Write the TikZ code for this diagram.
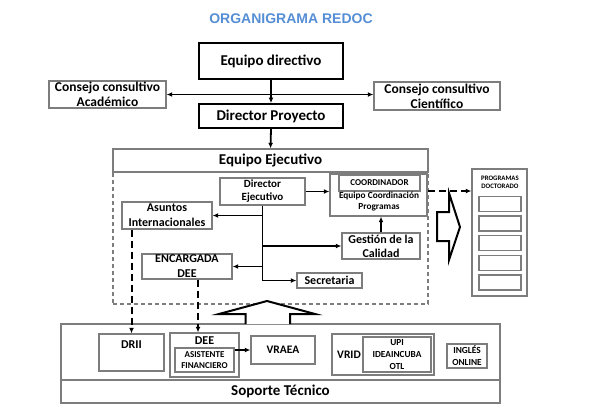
\documentclass[tikz,border=0pt]{standalone}
\usepackage{fontspec}
\setmainfont{Carlito}
\newfontfamily\titlefont{Liberation Sans}
\usepackage{tikz}
\usetikzlibrary{arrows.meta, positioning, calc}
\definecolor{redocblue}{RGB}{85, 142, 213}
\definecolor{redocgray}{RGB}{125, 125, 125}
\newcommand{\redocsize}[2]{\fontsize{#1}{#2}\selectfont}
\tikzset{
    box/.style={
        rectangle, draw=black, line width=1.9pt, fill=white,
        inner sep=0pt, align=center, font=\bfseries
    },
    graybox/.style={box, draw=redocgray, line width=1.4pt},
    dashbox/.style={rectangle, draw=redocgray, line width=1.4pt, dash pattern=on 4pt off 3pt, inner sep=0pt},
    txt/.style={inner sep=0pt, align=center},
    arrow/.style={-{Latex[length=5.5pt, width=5pt]}, line width=1.8pt},
    dasharrow/.style={arrow, line width=2pt, dash pattern=on 7pt off 4pt},
    bigarrow/.style={draw=black, line width=2pt, fill=white, line join=miter},
}

\begin{document}
\begin{tikzpicture}[x=1pt, y=-1pt]
    \useasboundingbox (0,0) rectangle (591,410);

    \node[txt, text=redocblue, font=\titlefont\bfseries\redocsize{14}{14}] (title) at (291, 18.5) {ORGANIGRAMA REDOC};

    % direccion
    \node[box, minimum width=144pt, minimum height=36pt, font=\bfseries\redocsize{15}{15}] (eqdir) at (271, 61) {Equipo directivo};
    \node[box, minimum width=144pt, minimum height=24pt, font=\bfseries\redocsize{15}{15}] (dirpro) at (271, 116) {Director Proyecto};
    \node[graybox, minimum width=117pt, minimum height=27pt, font=\bfseries\redocsize{13.5}{15}] (acad) at (107.5, 94.5) {Consejo consultivo\\Académico};
    \node[graybox, minimum width=126pt, minimum height=28pt, font=\bfseries\redocsize{13.5}{15}] (cient) at (437, 96) {Consejo consultivo\\Científico};

    % equipo ejecutivo
    \node[dashbox, minimum width=315pt, minimum height=132pt] (ejarea) at (270.5, 238) {};
    \node[graybox, minimum width=315pt, minimum height=23pt, font=\bfseries\redocsize{15}{15}] (eqej) at (270.5, 160.5) {Equipo Ejecutivo};
    \node[graybox, minimum width=85pt, minimum height=27pt, font=\bfseries\redocsize{11}{13}] (dirEj) at (262.5, 191.5) {Director\\Ejecutivo};
    \node[graybox, minimum width=97pt, minimum height=42pt] (coord) at (378.5, 195) {};
    \node[graybox, minimum width=81pt, minimum height=16pt, font=\bfseries\redocsize{9}{9}] (coordtit) at (379.5, 183) {COORDINADOR};
    \node[txt, font=\bfseries\redocsize{9.3}{11}] (coordtxt) at (379, 201.5) {Equipo Coordinación\\Programas};
    \node[graybox, minimum width=90pt, minimum height=27pt, font=\bfseries\redocsize{12}{15}] (asuntos) at (167, 215.5) {Asuntos\\Internacionales};
    \node[graybox, minimum width=78pt, minimum height=26pt, font=\bfseries\redocsize{12}{14}] (gestion) at (381, 246) {Gestión de la\\Calidad};
    \node[graybox, minimum width=90pt, minimum height=25pt, font=\bfseries\redocsize{12}{15}] (encargada) at (187, 266.5) {ENCARGADA\\DEE};
    \node[graybox, minimum width=65pt, minimum height=15pt, font=\bfseries\redocsize{12}{12}] (secre) at (329.5, 280.5) {Secretaria};

    % programas de doctorado
    \node[graybox, minimum width=55pt, minimum height=127pt] (prog) at (499.5, 232.5) {};
    \node[txt, font=\bfseries\redocsize{6.8}{8}] (progtxt) at (500, 182) {PROGRAMAS\\DOCTORADO};
    \foreach \i in {0,...,4}
        \node[graybox, minimum width=42pt, minimum height=15pt] (slot\i) at (500, 204+19.6*\i) {};

    % soporte tecnico
    \node[graybox, minimum width=439pt, minimum height=56pt] (suparea) at (280.5, 352) {};
    \node[graybox, minimum width=439pt, minimum height=23pt, font=\bfseries\redocsize{15}{15}] (soporte) at (280.5, 391.5) {Soporte Técnico};
    \node[graybox, minimum width=65pt, minimum height=37pt] (drii) at (131.5, 352.5) {};
    \node[txt, font=\bfseries\redocsize{12}{12}] (driitxt) at (131.5, 345) {DRII};
    \node[graybox, minimum width=69pt, minimum height=44pt] (dee) at (204.5, 355) {};
    \node[txt, font=\bfseries\redocsize{12}{12}] (deetxt) at (204.5, 341) {DEE};
    \node[graybox, minimum width=59pt, minimum height=24pt, font=\bfseries\redocsize{9}{11}] (asist) at (204.5, 360) {ASISTENTE\\FINANCIERO};
    \node[graybox, minimum width=64pt, minimum height=28pt, font=\bfseries\redocsize{11.5}{12}] (vraea) at (283, 350) {VRAEA};
    \node[graybox, minimum width=102pt, minimum height=41pt] (vrid) at (383, 354.5) {};
    \node[txt, font=\bfseries\redocsize{11.5}{12}] (vridtxt) at (349, 355) {VRID};
    \node[graybox, minimum width=68pt, minimum height=35pt, font=\bfseries\redocsize{9.3}{12}] (upi) at (397, 354.5) {UPI\\IDEAINCUBA\\OTL};
    \node[graybox, minimum width=40pt, minimum height=24pt, font=\bfseries\redocsize{9.3}{12}] (ingles) at (467, 356) {INGLÉS\\ONLINE};

    % flechas de bloque
    \draw[bigarrow] (437, 212) -- (449, 212) -- (449, 193) -- (460, 227) -- (449, 260) -- (449, 241) -- (437, 241) -- cycle;
    \draw[bigarrow] (245.5, 324) -- (245.5, 314) -- (219, 314) -- (267, 301) -- (315, 314) -- (290, 314) -- (290, 324);

    % conectores
    \draw[arrow, {Latex[length=5.5pt, width=5pt]}-{Latex[length=5.5pt, width=5pt]}] (acad.east) -- (acad.east -| cient.west);
    \draw[arrow] (eqdir.south) -- (dirpro.north);
    \draw[arrow] (dirpro.south) -- (eqej.north);
    \draw[arrow] (dirEj.east) -- (dirEj.east -| coord.west);
    \draw[arrow] (dirEj.south) |- (secre.west);
    \draw[arrow] (dirEj.south |- asuntos.east) -- (asuntos.east);
    \draw[arrow] (dirEj.south |- gestion.west) -- (gestion.west);
    \draw[arrow] (dirEj.south |- encargada.east) -- (encargada.east);
    \draw[arrow] (gestion.north) -- (gestion.north |- coord.south);
    \draw[dasharrow] ([yshift=4pt]coord.east) -- ([yshift=4pt]coord.east -| prog.west);
    \draw[dasharrow] (drii.north |- asuntos.south) -- (drii.north);
    \draw[dasharrow] ([xshift=11pt]encargada.south) -- ([xshift=11pt]encargada.south |- dee.north);
    \draw[arrow] (asist.east |- vraea.west) -- (vraea.west);
\end{tikzpicture}
\end{document}
